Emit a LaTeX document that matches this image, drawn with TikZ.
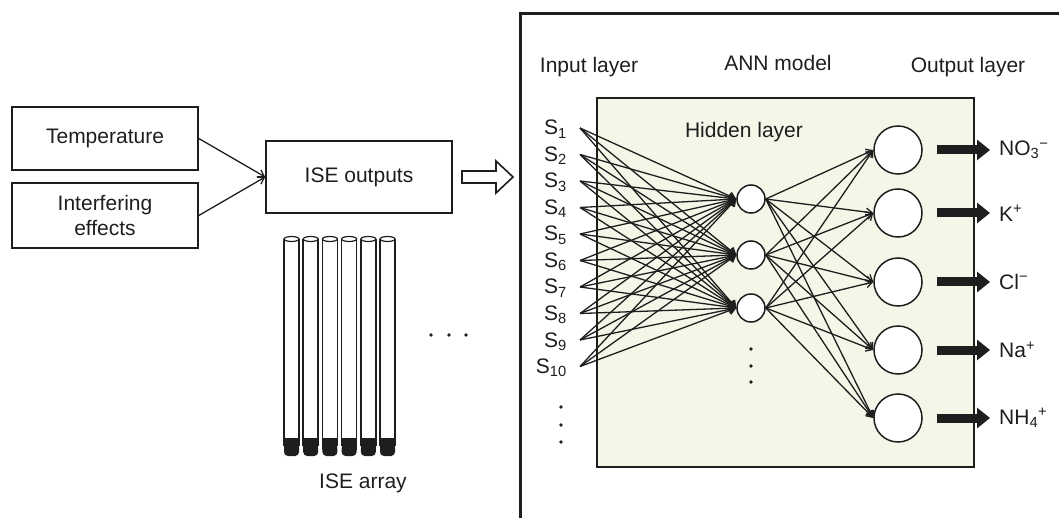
\documentclass[tikz,border=0pt]{standalone}
\usepackage{fontspec}
\setmainfont{Liberation Sans}
\usepackage{tikz}
\usetikzlibrary{arrows.meta, positioning}
\definecolor{annfill}{RGB}{244,246,231}
\definecolor{ink}{RGB}{30,30,30}

\begin{document}
\begin{tikzpicture}[x=1pt, y=-1pt, font=\fontsize{21}{25}\selectfont, text=ink,
    box/.style={draw=ink, line width=1.6pt, minimum width=186pt, align=center, inner sep=0pt},
    hidden/.style={circle, draw=ink, fill=white, line width=1.5pt, minimum size=28pt, inner sep=0pt},
    output/.style={circle, draw=ink, fill=white, line width=1.5pt, minimum size=48pt, inner sep=0pt},
    link/.style={color=ink, line width=1.3pt, -{Straight Barb[length=6pt,width=8pt]}},
    ion/.style={anchor=west, inner sep=0pt},
    dot/.style={circle, fill=ink, inner sep=0pt, minimum size=3.6pt}]
  \useasboundingbox (0,0) rectangle (1059,518);

  % sensor side
  \node[box, minimum height=63pt] (temp)   at (105,138.5) {Temperature};
  \node[box, minimum height=65pt] (interf) at (105,215.5) {Interfering\\effects};
  \node[box, minimum height=72pt] (ise)    at (359,177)   {ISE outputs};
  \path[link]
    (temp.east)   edge (ise.west)
    (interf.east) edge (ise.west);
  % hollow feed arrow
  \draw[ink, line width=1.6pt, fill=white, line join=miter]
    (462,171) -- (496,171) -- (496,161) -- (513,177) -- (496,193) -- (496,183) -- (462,183) -- cycle;

  % electrode array
  \foreach \k in {0,...,5}{
    \pgfmathsetmacro{\tx}{284+19.2*\k}
    \fill[ink] (\tx,438) rectangle (\tx+15,450);
    \fill[ink, rounded corners=4pt] (\tx,444) rectangle (\tx+15,456);
    \draw[ink, line width=1.5pt] (\tx,239) -- (\tx,446) (\tx+15,239) -- (\tx+15,446);
    \draw[ink, line width=1.2pt, fill=white] (\tx+7.5,239) ellipse [x radius=7.5, y radius=2.5];
  }
  \node (arr) at (363,483) {ISE array};
  \foreach \x in {431,449,466} \node[dot] at (\x,335) {};

  % ANN panel
  \draw[ink, line width=3pt] (520,518) -- (520,14) -- (1059,14);
  \draw[ink, line width=2.2pt, fill=annfill] (597,98) rectangle (974,467);
  \node (inlab)  at (589,67)  {Input layer};
  \node (annlab) at (778,63)  {ANN model};
  \node (outlab) at (968,67)  {Output layer};
  \node (hidlab) at (744,132) {Hidden layer};

  \foreach \i in {1,...,10}{
    \coordinate (in_\i) at (580,{128+26.5*(\i-1)});
    \node[anchor=base east, inner sep=0pt] (s_\i) at (567,{135+26.5*(\i-1)}) {S\textsubscript{\i}};
  }
  \node[hidden] (h_1) at (751,199) {};
  \node[hidden] (h_2) at (751,255) {};
  \node[hidden] (h_3) at (751,308) {};
  \node[output] (o_1) at (898,150) {};
  \node[output] (o_2) at (898,213) {};
  \node[output] (o_3) at (898,282) {};
  \node[output] (o_4) at (898,350) {};
  \node[output] (o_5) at (898,418) {};
  \node[ion] (y_1) at (999,150) {NO\textsubscript{3}\textsuperscript{−}};
  \node[ion] (y_2) at (999,213) {K\textsuperscript{+}};
  \node[ion] (y_3) at (999,282) {Cl\textsuperscript{−}};
  \node[ion] (y_4) at (999,350) {Na\textsuperscript{+}};
  \node[ion] (y_5) at (999,418) {NH\textsubscript{4}\textsuperscript{+}};

  \foreach \i in {1,...,10}
    \foreach \j in {1,2,3}
      \draw[link] (in_\i) -- (h_\j.west);
  \foreach \j in {1,2,3}
    \foreach \k in {1,...,5}
      \draw[link] (h_\j.east) -- (o_\k.west);
  \foreach \k in {1,...,5}
    \draw[ink, line width=9pt, -{Triangle[length=13pt,width=20pt]}, shorten <=14pt, shorten >=9pt]
      (o_\k.east) -- (y_\k.west);

  \foreach \y in {407,425,442} \node[dot] at (561,\y) {};
  \foreach \y in {349,366,382} \node[dot] at (751,\y) {};
\end{tikzpicture}
\end{document}
